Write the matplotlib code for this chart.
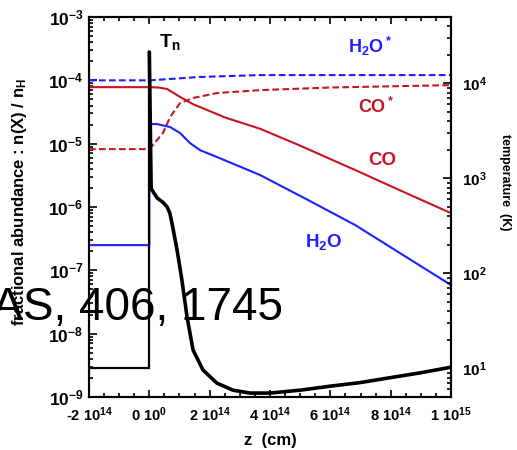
import matplotlib
matplotlib.use("Agg")
import matplotlib.pyplot as plt
from matplotlib.ticker import FixedLocator, MultipleLocator, LogLocator, NullFormatter

plt.rcParams['font.family'] = ['Liberation Sans', 'DejaVu Sans']
plt.rcParams['mathtext.fontset'] = 'custom'
plt.rcParams['mathtext.rm'] = 'Liberation Sans:bold'
plt.rcParams['mathtext.it'] = 'Liberation Sans:bold'
plt.rcParams['mathtext.bf'] = 'Liberation Sans:bold'

# ---- data ----
z_T = [-2e14, 0, 0, 0.06e14, 0.26e14, 0.45e14, 0.59e14, 0.68e14, 0.75e14, 0.92e14, 1.08e14, 1.25e14, 1.45e14,
       1.78e14, 2.24e14, 2.77e14, 3.34e14, 4.0e14, 5.0e14, 6.0e14, 7.0e14, 8.0e14, 9.0e14, 10.0e14]
T_n = [10, 10, 21400, 780, 622, 560, 500, 430, 340, 176, 85, 34.8, 15.6,
       9.6, 7.0, 5.9, 5.5, 5.5, 5.9, 6.5, 7.1, 8.0, 9.0, 10.3]

z_H2O = [-2e14, 0, 0, 0.25e14, 0.69e14, 1.02e14, 1.35e14, 1.68e14, 2.24e14, 3.67e14, 5.26e14, 6.82e14, 10e14]
H2O = [2.5e-7, 2.5e-7, 2.04e-5, 2.04e-5, 1.83e-5, 1.47e-5, 1.02e-5, 7.9e-6, 6.16e-6, 3.2e-6, 1.29e-6, 5.2e-7, 5.86e-8]

z_CO = [-2e14, 0, 0.3e14, 0.59e14, 1.02e14, 1.45e14, 2.5e14, 3.67e14, 5.0e14, 6.82e14, 8.5e14, 10e14]
CO = [7.8e-5, 7.8e-5, 7.7e-5, 7.3e-5, 5.46e-5, 4.2e-5, 2.6e-5, 1.72e-5, 9.3e-6, 3.84e-6, 1.67e-6, 8.0e-7]

z_COice = [-2e14, 0, 0.45e14, 0.69e14, 1.02e14, 1.45e14, 2.24e14, 3.67e14, 6.0e14, 10e14]
CO_ice = [8.2e-6, 8.2e-6, 1.47e-5, 2.64e-5, 4.39e-5, 5.26e-5, 6.3e-5, 7.0e-5, 7.7e-5, 8.4e-5]

z_H2Oice = [-2e14, 0, 1.68e14, 3.67e14, 10e14]
H2O_ice = [1.0e-4, 1.0e-4, 1.13e-4, 1.21e-4, 1.21e-4]

x_ticks = [-2e14, 0, 2e14, 4e14, 6e14, 8e14, 1e15]
x_ticklabels = [r'-2 10$^{14}$', r'0 10$^{0}$', r'2 10$^{14}$', r'4 10$^{14}$',
                r'6 10$^{14}$', r'8 10$^{14}$', r'1 10$^{15}$']
y_ticks = [1e-9, 1e-8, 1e-7, 1e-6, 1e-5, 1e-4, 1e-3]
y_ticklabels = [r'10$^{-9}$', r'10$^{-8}$', r'10$^{-7}$', r'10$^{-6}$', r'10$^{-5}$', r'10$^{-4}$', r'10$^{-3}$']
t_ticks = [10, 100, 1000, 10000]
t_ticklabels = [r'10$^{1}$', r'10$^{2}$', r'10$^{3}$', r'10$^{4}$']

RED = '#c8141e'
BLUE = '#1e1eff'

W, H = 517, 450
fig = plt.figure(figsize=(W / 100, H / 100), dpi=100)
ax = fig.add_axes([89 / W, 1 - 397 / H, (451 - 89) / W, (397 - 17) / H])
ax2 = ax.twinx()

dash = (0, (3.2, 1.6))
ax.plot(z_H2Oice, H2O_ice, color=BLUE, lw=1.5, ls=dash)
ax.plot(z_COice, CO_ice, color=RED, lw=1.5, ls=dash)
ax.plot(z_CO, CO, color=RED, lw=1.5)
ax.plot(z_H2O, H2O, color=BLUE, lw=1.5)

ax2.plot(z_T[:3], T_n[:3], color='black', lw=1.6, solid_joinstyle='miter')
ax2.plot(z_T[2:], T_n[2:], color='black', lw=2.6, solid_capstyle='round', solid_joinstyle='round')

ax.set_xlim(-2e14, 1e15)
ax.set_yscale('log')
ax.set_ylim(1e-9, 1e-3)
ax2.set_yscale('log')
ax2.set_ylim(5, 5e4)

ax.xaxis.set_major_locator(FixedLocator(x_ticks))
ax.set_xticklabels(x_ticklabels, fontsize=10.5, fontweight='bold')
ax.xaxis.set_minor_locator(MultipleLocator(0.5e14))
ax.yaxis.set_major_locator(FixedLocator(y_ticks))
ax.set_yticklabels(y_ticklabels, fontsize=12.5, fontweight='bold')
ax.yaxis.set_minor_locator(LogLocator(base=10, subs=range(2, 10), numticks=20))
ax.yaxis.set_minor_formatter(NullFormatter())
ax2.yaxis.set_major_locator(FixedLocator(t_ticks))
ax2.set_yticklabels(t_ticklabels, fontsize=11, fontweight='bold')
ax2.yaxis.set_minor_locator(LogLocator(base=10, subs=range(2, 10), numticks=20))
ax2.yaxis.set_minor_formatter(NullFormatter())

ax.tick_params(axis='x', which='both', direction='in', top=True, bottom=True, pad=6, width=1.2)
ax.tick_params(axis='x', which='major', length=5)
ax.tick_params(axis='x', which='minor', length=3)
ax.tick_params(axis='y', which='both', direction='in', left=True, right=False, pad=4, width=1.2)
ax.tick_params(axis='y', which='major', length=6)
ax.tick_params(axis='y', which='minor', length=3)
ax2.tick_params(axis='y', which='both', direction='in', right=True, left=False, pad=8, width=1.2)
ax2.tick_params(axis='y', which='major', length=6)
ax2.tick_params(axis='y', which='minor', length=3)
for a in (ax, ax2):
    for s in a.spines.values():
        s.set_linewidth(1.5)

fig.text(270 / W, 1 - 441 / H, 'z  (cm)', fontsize=12, fontweight='bold', ha='center', va='center')
fig.text(20 / W, 1 - 202 / H, 'fractional abundance : n(X) / n$_{\\mathrm{H}}$', fontsize=12,
         fontweight='bold', rotation=90, ha='center', va='center')
fig.text(505 / W, 1 - 182 / H, 'temperature  (K)', fontsize=9, fontweight='bold', rotation=-90,
         ha='center', va='center')

ax.text(159 / W, 1 - 47 / H, r'$\mathrm{T_n}$', transform=fig.transFigure, fontsize=14, color='black',
        ha='left', va='baseline')
ax.text(348 / W, 1 - 53 / H, r'$\mathrm{H_2O^*}$', transform=fig.transFigure, fontsize=13, color=BLUE,
        ha='left', va='baseline')
ax.text(358 / W, 1 - 113 / H, r'$\mathrm{CO^*}$', transform=fig.transFigure, fontsize=13, color=RED,
        ha='left', va='baseline')
ax.text(368 / W, 1 - 165 / H, 'CO', transform=fig.transFigure, fontsize=13.5, color=RED,
        fontweight='bold', ha='left', va='baseline')
ax.text(305 / W, 1 - 247 / H, r'$\mathrm{H_2O}$', transform=fig.transFigure, fontsize=13.5, color=BLUE,
        ha='left', va='baseline')

fig.text(283 / W, 1 - 320 / H, 'MNRAS, 406, 1745', fontsize=33, color='black',
         ha='right', va='baseline', zorder=10)

fig.savefig('out.png', dpi=100)
